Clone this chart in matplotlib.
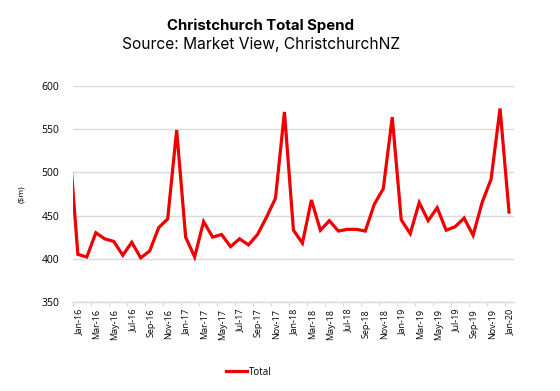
import numpy as np
import pandas as pd
import matplotlib
matplotlib.use("Agg")
import matplotlib.pyplot as plt
from matplotlib.transforms import ScaledTranslation

# Monthly total spend ($m), Dec-15 .. Jan-20 (Dec-15 sits just left of the axis and gets clipped)
months = pd.date_range("2015-12-01", "2020-01-01", freq="MS")
spend = [
    540,
    405, 402, 430, 423, 420, 404, 419, 401, 409, 436, 446, 549,
    425, 402, 443, 425, 428, 414, 423, 416, 428, 448, 470, 570,
    433, 418, 468, 433, 444, 432, 434, 434, 432, 463, 481, 564,
    445, 429, 465, 444, 459, 433, 437, 447, 427, 465, 492, 574,
    454,
]
tick_labels = [d.strftime("%b-%y") for d in pd.date_range("2016-01-01", "2020-01-01", freq="2MS")]

plt.rcParams['font.family'] = ['Open Sans', 'DejaVu Sans']

fig = plt.figure(figsize=(5.6, 3.91), dpi=100)
ax = fig.add_axes([0.131, 0.228, 0.786, 0.552])

# x: month index, Jan-16 point = 0, axis starts at the Jan-16 tick (-0.5)
x = np.arange(len(spend)) - 1
ax.plot(x, spend, color='#f00000', linewidth=2.3, label='Total', solid_joinstyle='miter')

ax.set_xlim(-0.5, 48.5)
ax.set_ylim(350, 600)
ax.set_yticks(range(350, 601, 50))
ax.set_xticks(np.arange(len(tick_labels)) * 2 - 0.5)
ax.set_xticklabels(tick_labels, rotation=90, fontsize=6.5)
ax.tick_params(axis='y', length=0, labelsize=7.5, pad=10)
ax.tick_params(axis='x', length=3, color='#d9d9d9', pad=2)

# Excel draws the rotated labels a little right of the tick
shift = ScaledTranslation(4 / 72, 0, fig.dpi_scale_trans)
for lbl in ax.get_xticklabels():
    lbl.set_transform(lbl.get_transform() + shift)

ax.grid(axis='y', color='#d9d9d9', linewidth=1)
ax.set_axisbelow(True)
for s in ['top', 'right', 'left']:
    ax.spines[s].set_visible(False)
ax.spines['bottom'].set_color('#d9d9d9')
ax.spines['bottom'].set_linewidth(1)

ax.set_ylabel('($m)', fontsize=6, labelpad=12)

fig.text(0.466, 0.935, 'Christchurch Total Spend', ha='center', va='center',
         fontsize=10.8, fontweight='bold', family=['Inter', 'DejaVu Sans'])
fig.text(0.466, 0.885, 'Source: Market View, ChristchurchNZ', ha='center', va='center',
         fontsize=11.2, family=['Inter', 'DejaVu Sans'])

fig.legend(loc='center', bbox_to_anchor=(0.444, 0.048), frameon=False, fontsize=7,
           handlelength=2.2, handletextpad=0.2)

plt.savefig('out.png', dpi=100)
plt.close()
